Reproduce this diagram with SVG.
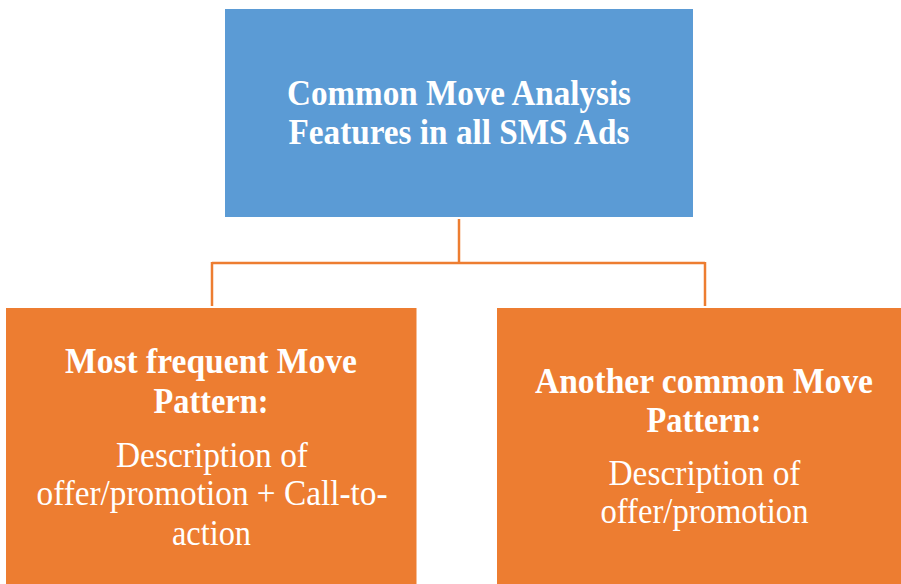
<svg xmlns="http://www.w3.org/2000/svg" width="901" height="584" viewBox="0 0 901 584">
  <style>
    .blue { fill: #5B9BD5; }
    .orange { fill: #ED7D31; }
    .link { fill: none; stroke: #ED7D31; stroke-width: 2.5; }
    .hd { font-family: "Liberation Serif", "Times New Roman", serif; font-weight: bold; font-size: 36px; fill: #FFFFFF; text-anchor: middle; }
    .bd { font-family: "Liberation Serif", "Times New Roman", serif; font-size: 35px; fill: #FFFFFF; text-anchor: middle; }
  </style>
  <rect width="901" height="584" fill="#FFFFFF"/>

  <!-- connectors -->
  <g id="connectors">
    <path class="link" d="M459,219 V263"/>
    <path class="link" d="M212,263 H705"/>
    <path class="link" d="M212,262 V306"/>
    <path class="link" d="M705,262 V306"/>
  </g>

  <!-- root -->
  <g id="root">
    <rect class="blue" x="225" y="9" width="468" height="208"/>
    <text class="hd" x="459" y="105" textLength="344" lengthAdjust="spacingAndGlyphs">Common Move Analysis</text>
    <text class="hd" x="459" y="144" textLength="341" lengthAdjust="spacingAndGlyphs">Features in all SMS Ads</text>
  </g>

  <!-- left child -->
  <g id="most-frequent">
    <rect class="orange" x="6" y="308" width="410.5" height="276"/>
    <text class="hd" x="211" y="373" textLength="292" lengthAdjust="spacingAndGlyphs">Most frequent Move</text>
    <text class="hd" x="211" y="413" textLength="115" lengthAdjust="spacingAndGlyphs">Pattern:</text>
    <text class="bd" x="212" y="467" textLength="192" lengthAdjust="spacingAndGlyphs">Description of</text>
    <text class="bd" x="212" y="505" textLength="351" lengthAdjust="spacingAndGlyphs">offer/promotion + Call-to-</text>
    <text class="bd" x="211.5" y="545" textLength="79" lengthAdjust="spacingAndGlyphs">action</text>
  </g>

  <!-- right child -->
  <g id="another-common">
    <rect class="orange" x="497" y="308" width="404" height="276"/>
    <text class="hd" x="704" y="393" textLength="338" lengthAdjust="spacingAndGlyphs">Another common Move</text>
    <text class="hd" x="704" y="432" textLength="115" lengthAdjust="spacingAndGlyphs">Pattern:</text>
    <text class="bd" x="704.5" y="485" textLength="192" lengthAdjust="spacingAndGlyphs">Description of</text>
    <text class="bd" x="704.5" y="523" textLength="208" lengthAdjust="spacingAndGlyphs">offer/promotion</text>
  </g>
</svg>
